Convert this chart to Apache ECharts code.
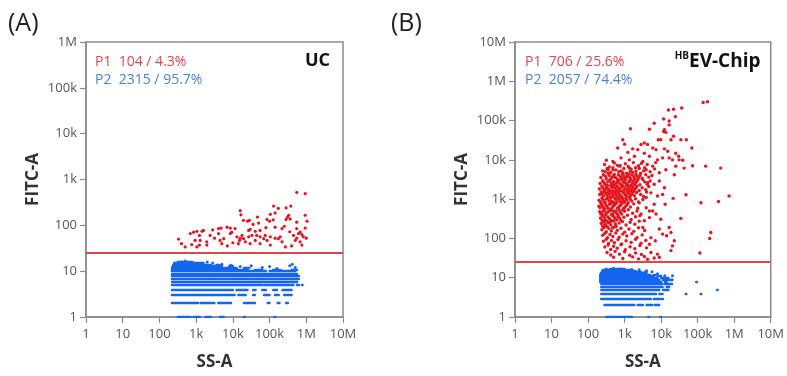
<!DOCTYPE html>
<html>
<head>
<meta charset="utf-8">
<script src="https://cdn.jsdelivr.net/npm/echarts@6/dist/echarts.min.js"></script>
<style>
  html, body { margin: 0; background: #fff; }
  #chart { width: 787px; height: 376px; }
</style>
</head>
<body>
<div id="chart"></div>
<script>
// tick labels by decade (log10 of the value)
const decadeLabels = ['1', '10', '100', '1k', '10k', '100k', '1M', '10M'];
const gateFitc = 25; // P1 / P2 gate on FITC-A

// points are [log10(SS-A), log10(FITC-A)]
const ucP1 = [
  [5.74, 2.72], [5.97, 2.69], [5.11, 2.42], [5.24, 2.37], [5.45, 2.38], [5.58, 2.42],
  [4.20, 2.32], [4.22, 2.23], [4.67, 2.18], [5.02, 2.24], [5.15, 2.27], [5.52, 2.22],
  [5.56, 2.14], [5.49, 2.18], [4.29, 2.11], [4.40, 2.09], [4.45, 2.11], [4.93, 2.13],
  [5.00, 2.09], [5.45, 2.13], [5.74, 2.07], [6.02, 2.09], [5.97, 2.22], [3.61, 1.93],
  [3.84, 1.96], [3.68, 1.94], [3.93, 1.94], [4.06, 1.93], [4.43, 1.89], [4.47, 1.91],
  [4.61, 1.87], [4.74, 1.89], [5.15, 1.96], [5.34, 1.93], [5.74, 1.93], [5.83, 1.85],
  [5.97, 1.94], [2.52, 1.70], [2.70, 1.53], [2.84, 1.82], [2.93, 1.85], [3.02, 1.87],
  [3.16, 1.87], [3.20, 1.89], [3.09, 1.78], [2.97, 1.67], [3.11, 1.67], [3.09, 1.57],
  [3.38, 1.78], [3.29, 1.64], [3.61, 1.82], [3.65, 1.67], [3.75, 1.71], [3.70, 1.60],
  [3.93, 1.82], [3.97, 1.85], [4.11, 1.75], [4.20, 1.72], [4.25, 1.78], [4.18, 1.67],
  [4.29, 1.71], [4.43, 1.75], [4.34, 1.64], [4.52, 1.78], [4.61, 1.67], [4.65, 1.78],
  [4.74, 1.75], [4.84, 1.71], [4.88, 1.78], [4.93, 1.67], [5.02, 1.75], [5.15, 1.72],
  [5.24, 1.71], [5.29, 1.75], [5.34, 1.64], [5.43, 1.53], [5.65, 1.78], [5.70, 1.67],
  [5.74, 1.72], [5.79, 1.82], [5.83, 1.64], [5.88, 1.57], [5.92, 1.75], [4.15, 1.60],
  [4.47, 1.60], [4.74, 1.60], [5.02, 1.57], [3.29, 1.57], [3.02, 1.53], [4.55, 2.02],
  [3.50, 1.72], [2.60, 1.60], [5.55, 1.86], [5.88, 1.80], [4.00, 1.62], [4.90, 1.95],
  [5.40, 1.98], [3.85, 1.55], [5.60, 1.55], [6.00, 1.72], [5.10, 2.12], [4.70, 2.05],
  [3.45, 1.90], [2.88, 1.58]
];
// P2 events sit on integer FITC-A levels and merge into streaks:
// [FITC-A, log10(SS-A) start, log10(SS-A) end]
const ucP2Rows = [
  [16, 2.50, 2.90], [15, 2.40, 3.20], [14, 2.38, 3.40], [14, 3.55, 3.62],
  [13, 2.36, 3.70], [13, 3.90, 4.00], [12, 2.34, 4.10], [12, 4.30, 4.45],
  [11, 2.34, 4.40], [11, 4.60, 4.80], [11, 5.10, 5.30], [11, 5.60, 5.75],
  [10, 2.34, 4.90], [10, 5.00, 5.70], [9, 2.34, 5.75], [8, 2.34, 5.80],
  [7, 2.34, 5.80], [6, 2.34, 5.75],
  [5, 2.34, 4.80], [5, 4.85, 5.65], [5, 5.75, 5.80], [5, 5.88, 5.90],
  [4, 2.34, 4.00], [4, 4.10, 4.40], [4, 4.55, 4.62], [4, 4.80, 4.90], [4, 5.10, 5.20], [4, 5.35, 5.60],
  [3, 2.34, 4.05], [3, 4.15, 4.35], [3, 4.55, 4.60], [3, 4.85, 5.00], [3, 5.15, 5.25], [3, 5.40, 5.60],
  [2, 2.34, 3.05], [2, 3.12, 3.50], [2, 3.60, 3.95], [2, 4.30, 4.60], [2, 4.95, 5.00], [2, 5.22, 5.27], [2, 5.45, 5.50],
  [1, 2.50, 2.85], [1, 2.93, 3.10], [1, 3.25, 3.40], [1, 3.65, 3.75], [1, 4.30, 4.33], [1, 5.13, 5.16]
];
const ucP2Dots = [
  [3.45, 1.18], [3.70, 1.15], [3.95, 1.13], [4.20, 1.10], [4.50, 1.12], [4.80, 1.08],
  [5.00, 1.10], [5.55, 1.12], [5.62, 1.15], [5.70, 1.08], [4.10, 1.05], [3.30, 1.20],
  [2.70, 1.22], [2.60, 1.20], [5.20, 1.06]
];

const chipP1 = [
  // upper tail and outliers
  [5.15, 5.46], [5.27, 5.48], [4.20, 5.27], [4.34, 5.29], [4.56, 5.32], [4.07, 5.04],
  [4.22, 4.99], [4.39, 5.10], [3.81, 4.93], [4.22, 4.89], [3.68, 4.78], [3.16, 4.79],
  [4.09, 4.77], [4.13, 4.70], [4.07, 4.72], [4.34, 4.60], [4.27, 4.51], [3.92, 4.51],
  [3.99, 4.51], [4.54, 4.51], [4.69, 4.51], [4.84, 4.30], [3.54, 4.43], [3.63, 4.39],
  [3.45, 4.39], [2.95, 4.51], [3.00, 4.40], [3.77, 4.30], [3.86, 4.26], [4.09, 4.28],
  [4.18, 4.22], [4.40, 4.17], [4.48, 4.09], [4.22, 4.05], [4.31, 4.00], [4.49, 4.00],
  [4.59, 3.99], [2.81, 4.30], [3.09, 4.19], [3.22, 4.28], [3.36, 4.26], [3.54, 4.17],
  [5.22, 3.84], [5.63, 3.79], [4.86, 3.85], [4.63, 3.79], [2.50, 3.99], [2.68, 3.96],
  [2.90, 4.05], [3.13, 4.00], [3.27, 4.09], [3.50, 3.96], [3.68, 4.09], [3.90, 4.00],
  [4.04, 4.05], [2.68, 3.75], [2.86, 3.84], [2.95, 3.67], [3.13, 3.79], [3.31, 3.71],
  [3.59, 3.75], [3.77, 3.84], [3.95, 3.67], [4.13, 3.75], [4.40, 3.84], [4.36, 3.62],
  [4.68, 3.11], [5.09, 2.91], [5.57, 2.94], [5.86, 3.08], [4.11, 2.87], [4.33, 3.02],
  [4.54, 2.51], [5.36, 2.15], [5.33, 2.00], [5.06, 1.63], [4.22, 2.28], [4.27, 2.15],
  [4.15, 2.07], [4.36, 1.94], [4.31, 1.81], [4.27, 1.69], [3.90, 1.60], [3.95, 1.52],
  [3.81, 1.50], [3.72, 1.64], [3.54, 1.54], [3.63, 1.47], [3.86, 2.62], [3.99, 2.49],
  [3.95, 2.24], [4.04, 2.11], [3.72, 2.02], [3.84, 1.94], [3.68, 1.85], [3.59, 2.78],
  [3.68, 2.53], [3.54, 2.45], [3.50, 2.28], [3.77, 2.70], [3.50, 3.50], [3.63, 3.42],
  [3.81, 3.38], [3.95, 3.46], [4.09, 3.29], [3.72, 3.16], [3.90, 3.08], [3.59, 3.04],
  [4.04, 3.12], [3.40, 2.91], [3.81, 2.87], [3.68, 2.70],
  // dense core
  [2.45, 3.88], [2.58, 3.82], [2.72, 3.92], [2.80, 3.86], [3.02, 3.90], [3.10, 3.83],
  [3.24, 3.93], [3.38, 3.85], [3.46, 3.91], [3.62, 3.88], [3.85, 3.93],
  [2.40, 3.72], [2.52, 3.78], [2.62, 3.68], [2.76, 3.74], [2.84, 3.70], [2.98, 3.78],
  [3.05, 3.66], [3.18, 3.76], [3.22, 3.68], [3.40, 3.78], [3.44, 3.66], [3.52, 3.72],
  [3.70, 3.70], [3.82, 3.77],
  [2.35, 3.55], [2.42, 3.62], [2.50, 3.52], [2.58, 3.60], [2.66, 3.56], [2.72, 3.63],
  [2.80, 3.51], [2.88, 3.58], [2.94, 3.64], [3.00, 3.53], [3.08, 3.60], [3.14, 3.55],
  [3.20, 3.62], [3.28, 3.52], [3.34, 3.58], [3.42, 3.60], [3.48, 3.53], [3.58, 3.62],
  [3.66, 3.56], [3.75, 3.60],
  [2.33, 3.40], [2.40, 3.47], [2.46, 3.38], [2.54, 3.44], [2.60, 3.49], [2.66, 3.36],
  [2.70, 3.45], [2.78, 3.41], [2.84, 3.48], [2.90, 3.37], [2.96, 3.44], [3.02, 3.49],
  [3.06, 3.39], [3.12, 3.45], [3.18, 3.36], [3.24, 3.47], [3.30, 3.41], [3.36, 3.49],
  [3.42, 3.37], [3.55, 3.44], [3.62, 3.38], [3.70, 3.46],
  [2.31, 3.26], [2.38, 3.33], [2.44, 3.22], [2.50, 3.30], [2.56, 3.25], [2.62, 3.34],
  [2.68, 3.21], [2.74, 3.28], [2.80, 3.33], [2.86, 3.24], [2.92, 3.30], [2.98, 3.22],
  [3.04, 3.34], [3.10, 3.27], [3.16, 3.21], [3.22, 3.31], [3.28, 3.25], [3.34, 3.33],
  [3.40, 3.22], [3.48, 3.29], [3.58, 3.24], [3.66, 3.32],
  [2.32, 3.12], [2.36, 3.18], [2.42, 3.08], [2.48, 3.15], [2.55, 3.19], [2.60, 3.06],
  [2.66, 3.13], [2.72, 3.18], [2.78, 3.09], [2.84, 3.15], [2.90, 3.07], [2.96, 3.17],
  [3.02, 3.11], [3.08, 3.19], [3.14, 3.06], [3.20, 3.14], [3.27, 3.09], [3.33, 3.17],
  [3.44, 3.12], [3.52, 3.07], [3.60, 3.18],
  [2.30, 2.97], [2.38, 3.03], [2.44, 2.93], [2.50, 3.00], [2.57, 2.95], [2.63, 3.04],
  [2.70, 2.91], [2.76, 2.99], [2.82, 3.04], [2.88, 2.94], [2.94, 3.01], [3.00, 2.92],
  [3.06, 2.98], [3.13, 3.04], [3.20, 2.95], [3.30, 3.01], [3.38, 2.93], [3.50, 2.99],
  [2.30, 2.82], [2.36, 2.88], [2.42, 2.78], [2.49, 2.85], [2.55, 2.76], [2.62, 2.89],
  [2.68, 2.81], [2.74, 2.86], [2.80, 2.77], [2.87, 2.84], [2.93, 2.89], [3.00, 2.79],
  [3.07, 2.86], [3.16, 2.80], [3.25, 2.88], [3.36, 2.77],
  [2.32, 2.68], [2.38, 2.63], [2.44, 2.72], [2.51, 2.66], [2.58, 2.74], [2.64, 2.61],
  [2.70, 2.70], [2.78, 2.64], [2.85, 2.72], [2.92, 2.62], [3.00, 2.69], [3.10, 2.73],
  [3.22, 2.64], [3.34, 2.70], [3.45, 2.62],
  [2.34, 2.52], [2.40, 2.58], [2.47, 2.47], [2.54, 2.55], [2.60, 2.49], [2.67, 2.58],
  [2.74, 2.51], [2.82, 2.56], [2.90, 2.46], [2.98, 2.54], [3.08, 2.59], [3.18, 2.48],
  [3.30, 2.55], [3.42, 2.58],
  [2.36, 2.38], [2.42, 2.43], [2.48, 2.33], [2.55, 2.40], [2.62, 2.35], [2.70, 2.44],
  [2.77, 2.31], [2.85, 2.39], [2.94, 2.43], [3.04, 2.34], [3.15, 2.41], [3.28, 2.36],
  [3.40, 2.44],
  [2.38, 2.22], [2.44, 2.28], [2.50, 2.17], [2.57, 2.25], [2.64, 2.19], [2.72, 2.29],
  [2.80, 2.21], [2.90, 2.26], [3.00, 2.16], [3.12, 2.24], [3.25, 2.18], [3.38, 2.27],
  [3.55, 2.20],
  [2.40, 2.08], [2.46, 2.13], [2.53, 2.02], [2.60, 2.10], [2.68, 2.05], [2.76, 2.14],
  [2.85, 2.03], [2.95, 2.11], [3.06, 2.06], [3.20, 2.12], [3.34, 2.02], [3.48, 2.09],
  [2.42, 1.93], [2.50, 1.98], [2.56, 1.87], [2.64, 1.95], [2.72, 1.89], [2.82, 1.97],
  [2.92, 1.86], [3.04, 1.94], [3.18, 1.90], [3.30, 1.98], [3.45, 1.88], [3.58, 1.95],
  [2.46, 1.78], [2.55, 1.83], [2.62, 1.72], [2.70, 1.80], [2.80, 1.75], [2.90, 1.84],
  [3.02, 1.71], [3.15, 1.79], [3.28, 1.74], [3.42, 1.82], [3.60, 1.76],
  [2.52, 1.64], [2.62, 1.58], [2.74, 1.67], [2.86, 1.60], [3.00, 1.66], [3.14, 1.57],
  [3.30, 1.63], [3.46, 1.59], [2.70, 1.52], [2.95, 1.49], [3.22, 1.53], [3.38, 1.48],
  // densest part of the core
  [2.48, 3.58], [2.55, 3.66], [2.63, 3.52], [2.69, 3.59], [2.75, 3.55], [2.83, 3.62],
  [2.91, 3.54], [2.97, 3.60], [3.05, 3.56], [3.11, 3.63], [3.17, 3.51], [3.25, 3.57],
  [3.31, 3.63], [3.38, 3.54],
  [2.43, 3.43], [2.51, 3.36], [2.57, 3.46], [2.64, 3.41], [2.73, 3.38], [2.81, 3.46],
  [2.87, 3.40], [2.93, 3.49], [3.00, 3.42], [3.09, 3.36], [3.15, 3.48], [3.21, 3.42],
  [3.27, 3.37], [3.33, 3.45],
  [2.41, 3.28], [2.47, 3.24], [2.53, 3.34], [2.59, 3.21], [2.65, 3.29], [2.71, 3.33],
  [2.77, 3.23], [2.83, 3.29], [2.89, 3.21], [2.95, 3.34], [3.01, 3.27], [3.07, 3.22],
  [3.13, 3.32], [3.19, 3.26], [3.25, 3.20], [3.31, 3.29],
  [2.39, 3.13], [2.45, 3.19], [2.52, 3.10], [2.58, 3.14], [2.63, 3.20], [2.69, 3.08],
  [2.75, 3.14], [2.81, 3.19], [2.87, 3.11], [2.93, 3.06], [2.99, 3.15], [3.05, 3.08],
  [3.11, 3.15], [3.17, 3.10], [3.23, 3.18],
  [2.34, 2.93], [2.41, 2.99], [2.47, 2.91], [2.53, 3.03], [2.60, 2.98], [2.66, 2.94],
  [2.73, 3.02], [2.79, 2.92], [2.85, 2.99], [2.91, 3.05], [2.97, 2.96], [3.03, 3.02],
  [3.10, 2.91], [3.16, 2.99],
  [2.33, 2.78], [2.39, 2.84], [2.46, 2.75], [2.52, 2.81], [2.59, 2.87], [2.65, 2.77],
  [2.71, 2.84], [2.77, 2.90], [2.84, 2.79], [2.90, 2.85], [2.97, 2.76], [3.04, 2.83],
  [2.35, 2.62], [2.41, 2.69], [2.48, 2.61], [2.55, 2.67], [2.61, 2.71], [2.68, 2.63],
  [2.75, 2.69], [2.82, 2.60], [2.88, 2.67], [2.95, 2.73],
  [2.38, 2.47], [2.45, 2.53], [2.51, 2.44], [2.58, 2.51], [2.65, 2.45], [2.71, 2.55],
  [2.79, 2.47], [2.86, 2.52],
  [2.40, 2.31], [2.46, 2.36], [2.53, 2.29], [2.60, 2.42], [2.67, 2.27], [2.75, 2.37],
  [2.55, 3.75], [2.68, 3.80], [2.90, 3.72], [3.15, 3.70], [3.30, 3.80], [2.47, 3.70],
  [2.88, 3.85], [3.55, 3.80]
];
const chipP2Rows = [
  [17, 2.60, 3.00], [16, 2.40, 3.20], [15, 2.40, 3.30], [14, 2.38, 3.45], [14, 3.55, 3.60],
  [13, 2.35, 3.60], [12, 2.33, 3.70], [12, 3.80, 3.85], [11, 2.33, 3.80], [11, 3.90, 4.00],
  [10, 2.33, 3.90], [10, 4.00, 4.20], [9, 2.33, 3.95], [9, 4.05, 4.30],
  [8, 2.33, 4.00], [8, 4.10, 4.15], [8, 4.96, 4.98],
  [7, 2.36, 4.04], [7, 4.10, 4.30], [6, 2.36, 4.04], [6, 4.15, 4.22],
  [5, 2.36, 3.95], [5, 4.05, 4.20], [5, 5.53, 5.55],
  [4, 2.36, 3.86], [4, 3.95, 4.04], [4, 4.67, 4.69], [4, 5.08, 5.10],
  [3, 2.36, 3.72], [3, 3.80, 3.95], [3, 4.00, 4.05],
  [2, 2.45, 3.27], [2, 3.36, 3.50], [2, 3.60, 3.75], [2, 3.82, 3.95],
  [1, 2.50, 3.20], [1, 3.65, 3.67], [1, 3.98, 4.00]
];
const chipP2Dots = [
  [2.50, 1.22], [2.70, 1.24], [2.90, 1.22], [3.20, 1.21], [3.40, 1.20], [3.60, 1.18],
  [3.75, 1.15], [3.90, 1.10], [4.10, 1.05], [4.31, 1.05], [4.30, 0.95], [4.12, 0.90]
];

const RED = '#e8141e';
const BLUE = '#1466ee';
const GATE = '#e4434c';
const AXIS = '#8a8a8a';
const FONT = '"Open Sans", "Noto Sans", sans-serif';

const toValue = (p) => [Math.pow(10, p[0]), Math.pow(10, p[1])];
const toSegments = (rows) => rows.map((r) => ({
  coords: [[Math.pow(10, r[1]), r[0]], [Math.pow(10, r[2]), r[0]]]
}));
const decadeLabel = (v) => decadeLabels[Math.round(Math.log10(v))] || '';

const chart = echarts.init(document.getElementById('chart'), null, { renderer: 'canvas' });

const makeAxis = (gridIndex, max, isY) => ({
  type: 'log',
  logBase: 10,
  gridIndex,
  min: 1,
  max,
  name: isY ? 'FITC-A' : 'SS-A',
  nameLocation: 'middle',
  nameGap: isY ? 44 : 37,
  nameTextStyle: { fontFamily: FONT, fontWeight: 'bold', fontSize: 17, color: '#333' },
  axisLine: { show: true, onZero: false, lineStyle: { color: AXIS, width: 1.5 } },
  axisTick: { show: true, length: 6, lineStyle: { color: AXIS, width: 1.2 } },
  minorTick: { show: false },
  splitLine: { show: false },
  axisLabel: {
    formatter: decadeLabel,
    fontFamily: FONT,
    fontSize: 13,
    color: '#555',
    margin: isY ? 9 : 11
  }
});

const dotSeries = (name, idx, data, color, size) => ({
  type: 'scatter',
  name,
  xAxisIndex: idx,
  yAxisIndex: idx,
  data: data.map(toValue),
  symbolSize: size,
  itemStyle: { color, opacity: 1 },
  silent: true
});

const rowSeries = (name, idx, rows) => ({
  type: 'lines',
  name,
  coordinateSystem: 'cartesian2d',
  xAxisIndex: idx,
  yAxisIndex: idx,
  polyline: false,
  data: toSegments(rows),
  lineStyle: { color: BLUE, width: 2.4, opacity: 1, cap: 'round' },
  silent: true
});

const gateLine = {
  silent: true,
  symbol: 'none',
  label: { show: false },
  lineStyle: { color: GATE, width: 2, type: 'solid' },
  data: [{ yAxis: gateFitc }]
};

const text = (x, y, str, size, color, extra) => ({
  type: 'text',
  x,
  y,
  style: Object.assign({
    text: str,
    fontFamily: FONT,
    fontSize: size,
    fill: color,
    verticalAlign: 'middle'
  }, extra || {})
});

chart.setOption({
  backgroundColor: '#fff',
  animation: false,
  grid: [
    { left: 86, top: 42, width: 257, height: 277, show: true, borderColor: AXIS, borderWidth: 1.5 },
    { left: 515, top: 42, width: 258, height: 276, show: true, borderColor: AXIS, borderWidth: 1.5 }
  ],
  xAxis: [makeAxis(0, 1e7, false), makeAxis(1, 1e7, false)],
  yAxis: [makeAxis(0, 1e6, true), makeAxis(1, 1e7, true)],
  series: [
    rowSeries('UC P2 rows', 0, ucP2Rows),
    dotSeries('UC P2', 0, ucP2Dots, BLUE, 3),
    Object.assign(dotSeries('UC P1', 0, ucP1, RED, 3.2), { markLine: gateLine }),
    rowSeries('Chip P2 rows', 1, chipP2Rows),
    dotSeries('Chip P2', 1, chipP2Dots, BLUE, 3),
    Object.assign(dotSeries('Chip P1', 1, chipP1, RED, 3.4), { markLine: gateLine })
  ],
  graphic: [
    text(8, 24, '(A)', 25, '#222'),
    text(391, 24, '(B)', 25, '#222'),
    text(95, 62, 'P1  104 / 4.3%', 14, '#e2454f'),
    text(95, 80, 'P2  2315 / 95.7%', 14, '#4a82d6'),
    text(330, 61, 'UC', 18, '#111', { fontWeight: 'bold', align: 'right' }),
    text(525, 62, 'P1  706 / 25.6%', 14, '#e2454f'),
    text(525, 80, 'P2  2057 / 74.4%', 14, '#4a82d6'),
    text(689, 61, 'HB', 10, '#111', { fontWeight: 'bold', align: 'right', verticalAlign: 'bottom' }),
    text(689, 62, 'EV-Chip', 19, '#111', { fontWeight: 'bold' })
  ]
});
</script>
</body>
</html>
